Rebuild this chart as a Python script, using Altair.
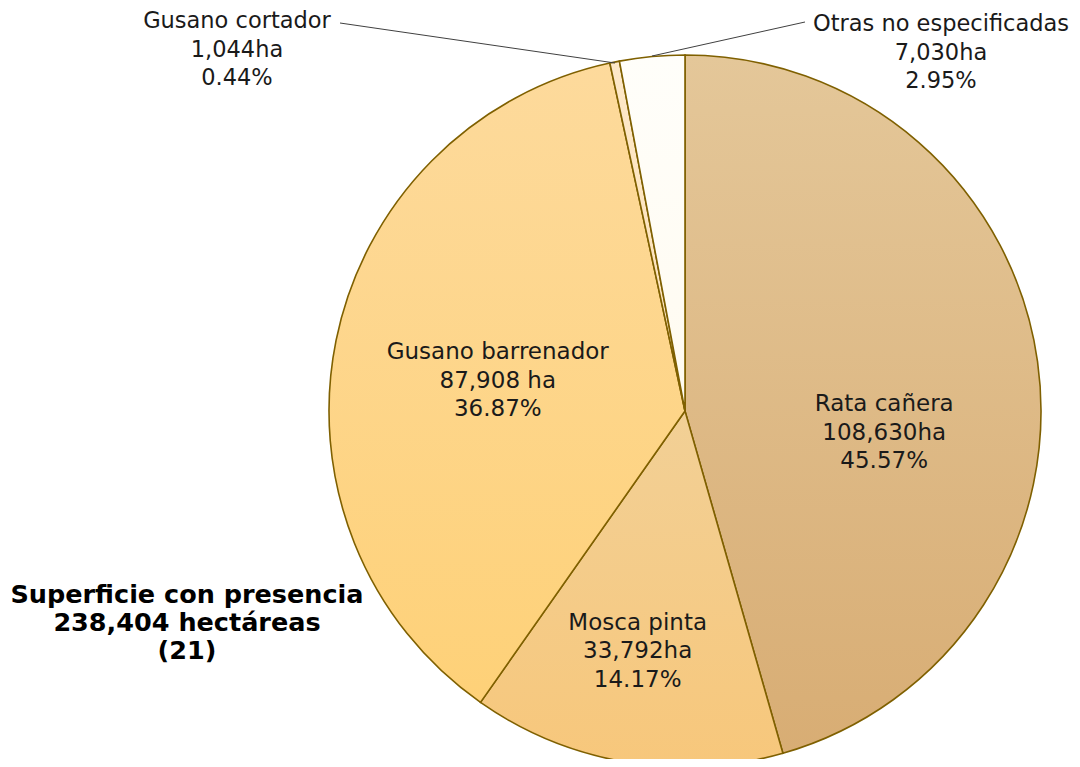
import altair as alt
import pandas as pd

# ---- data ----
categories = ["Rata cañera", "Mosca pinta", "Gusano barrenador", "Gusano cortador", "Otras no especificadas"]
hectares = [108630, 33792, 87908, 1044, 7030]
ha_labels = ["108,630ha", "33,792ha", "87,908 ha", "1,044ha", "7,030ha"]
pct_labels = ["45.57%", "14.17%", "36.87%", "0.44%", "2.95%"]
order = [0, 1, 2, 3, 4]
title_lines = ["Superficie con presencia", "238,404 hectáreas", "(21)"]

total = sum(hectares)
df = pd.DataFrame({
    "categoria": categories,
    "ha": hectares,
    "ha_label": ha_labels,
    "pct": pct_labels,
    "orden": order,
})
df["label"] = df["categoria"] + "\n" + df["ha_label"] + "\n" + df["pct"]

# ---- styling ----
CX, CY, R = 677, 403, 356
STROKE = "#7F6000"
FONT = "DejaVu Sans"
TXT = "#1a1a1a"
FS = 23

grads = {
    "Rata cañera": ("#E4C799", "#D8AD74"),
    "Mosca pinta": ("#F2D096", "#F7C77B"),
    "Gusano barrenador": ("#FDDA9C", "#FED178"),
    "Gusano cortador": ("#FDE8C8", "#FDE2B8"),
    "Otras no especificadas": ("#FFFEFA", "#FFFBF0"),
}

theta_scale = alt.Scale(domain=[0, total], nice=False, zero=True)

base = alt.Chart(df).transform_stack(
    stack="ha", groupby=[], as_=["t0", "t1"], sort=[alt.SortField("orden", order="ascending")]
).transform_calculate(tm="(datum.t0 + datum.t1) / 2")

layers = []
for cat in categories:
    top, bot = grads[cat]
    fill = {
        "gradient": "linear", "x1": 0, "y1": 0, "x2": 0, "y2": 1,
        "stops": [{"offset": 0, "color": top}, {"offset": 1, "color": bot}],
    }
    arc = base.mark_arc(fill=fill, stroke=STROKE, strokeWidth=1.6, radius=R).encode(
        theta=alt.Theta("t0:Q", scale=theta_scale),
        theta2="t1:Q",
        x=alt.value(CX),
        y=alt.value(CY),
    ).transform_filter(alt.datum.categoria == cat)
    layers.append(arc)

# inner labels (radius, dx, dy per slice)
inner = {
    "Rata cañera": (187, 14, 19),
    "Mosca pinta": (243, -7, -28),
    "Gusano barrenador": (190, -1, -21),
}
for cat, (rad, ddx, ddy) in inner.items():
    t = base.mark_text(
        font=FONT, fontSize=FS, color=TXT, lineBreak="\n", lineHeight=28.5,
        align="center", baseline="middle", radius=rad, dx=ddx, dy=ddy,
    ).encode(
        theta=alt.Theta("tm:Q", scale=theta_scale),
        x=alt.value(CX), y=alt.value(CY),
        text="label:N",
    ).transform_filter(alt.datum.categoria == cat)
    layers.append(t)

# outside labels with leader lines
outside = {
    "Gusano cortador": (229, 13),
    "Otras no especificadas": (933, 16),
}
for cat, (lx, ly) in outside.items():
    t = alt.Chart(df).mark_text(
        font=FONT, fontSize=22.5, color=TXT, lineBreak="\n", lineHeight=28.5,
        align="center", baseline="middle",
    ).encode(
        x=alt.value(lx), y=alt.value(ly), text="label:N",
    ).transform_filter(alt.datum.categoria == cat)
    layers.append(t)

leaders = [((332, 15), (607, 55)), ((797, 14), (644, 48))]
for (x1, y1), (x2, y2) in leaders:
    layers.append(
        alt.Chart(df.head(1)).mark_rule(color="#404040", strokeWidth=1).encode(
            x=alt.value(x1), y=alt.value(y1), x2=alt.value(x2), y2=alt.value(y2)
        )
    )

# title block
title_df = pd.DataFrame({"t": ["\n".join(title_lines)]})
layers.append(
    alt.Chart(title_df).mark_text(
        font=FONT, fontSize=25.5, fontWeight="bold", color="#000000", lineBreak="\n",
        lineHeight=28, align="center", baseline="middle",
    ).encode(x=alt.value(179), y=alt.value(587), text="t:N")
)

chart = alt.layer(*layers).properties(
    width=1064, height=751, padding=0, background="white",
    autosize=alt.AutoSizeParams(type="none"),
).configure_view(stroke="transparent", strokeWidth=0)

chart.save("out.html", embed_options={"renderer": "svg", "actions": False})
